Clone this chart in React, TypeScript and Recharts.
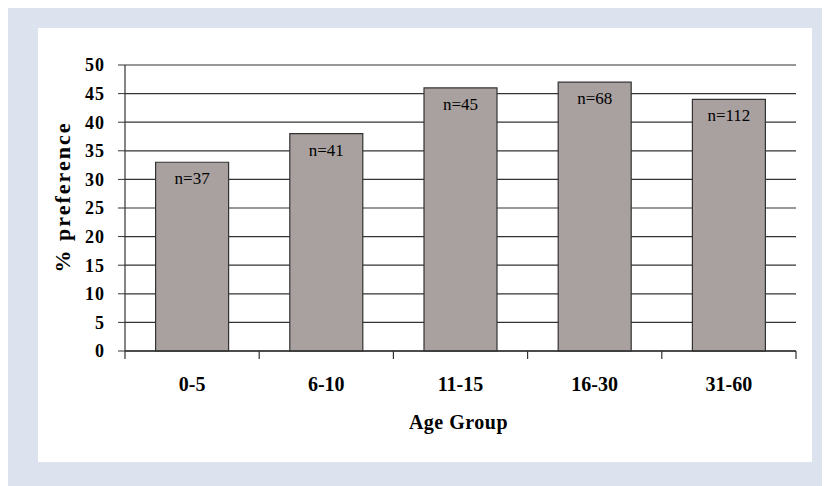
import React from 'react';
import { BarChart, Bar, XAxis, YAxis, CartesianGrid, LabelList, Label } from 'recharts';

const categories = ['0-5', '6-10', '11-15', '16-30', '31-60'];
const preference = [33, 38, 46, 47, 44];
const sampleLabels = ['n=37', 'n=41', 'n=45', 'n=68', 'n=112'];
const yTicks = [0, 5, 10, 15, 20, 25, 30, 35, 40, 45, 50];

const data = categories.map((c, i) => ({ group: c, value: preference[i], n: sampleLabels[i] }));

const FONT = "'Liberation Serif', 'Times New Roman', serif";
const LINE = '#333333';
const X_TICK_MARGIN = 26;
const BOUNDARY_TICK = 8;

const YTitle = (props: any) => {
  const vb = props.viewBox;
  const cx = vb.x + 24;
  const cy = vb.y + vb.height / 2 - 11;
  return (
    <text x={cx} y={cy} transform={`rotate(-90, ${cx}, ${cy})`} textAnchor="middle" dominantBaseline="central"
      fontFamily={FONT} fontWeight="bold" fontSize={22} letterSpacing={2} fill="#000">% preference</text>
  );
};

const XTitle = (props: any) => {
  const vb = props.viewBox;
  const cx = vb.x + vb.width / 2 - 2;
  const cy = vb.y + 78;
  return (
    <text x={cx} y={cy} textAnchor="middle" fontFamily={FONT} fontWeight="bold" fontSize={20} letterSpacing={0.5} fill="#000">Age Group</text>
  );
};

const BarLabel = (props: any) => {
  const { x, y, width, value } = props;
  return (
    <text x={Number(x) + Number(width) / 2} y={Number(y) + 22} textAnchor="middle"
      fontFamily={FONT} fontSize={17} fill="#000">{value}</text>
  );
};

const CatTick = (props: any) => {
  const { x, y, payload, index, visibleTicksCount, width } = props;
  const axisY = Number(y) - X_TICK_MARGIN;
  const band = Number(width) / Number(visibleTicksCount || 1);
  const left = Number(x) - band / 2;
  const right = Number(x) + band / 2;
  const isLast = index === visibleTicksCount - 1;
  return (
    <g>
      {isFinite(band) && (
        <line x1={left} x2={left} y1={axisY} y2={axisY + BOUNDARY_TICK} stroke={LINE} strokeWidth={1.2} />
      )}
      {isFinite(band) && isLast && (
        <line x1={right} x2={right} y1={axisY} y2={axisY + BOUNDARY_TICK} stroke={LINE} strokeWidth={1.2} />
      )}
      <text x={x} y={y} dy="0.71em" textAnchor="middle" fontFamily={FONT} fontWeight="bold" fontSize={20} fill="#000">
        {payload.value}
      </text>
    </g>
  );
};

export default function App() {
  return (
    <div style={{ width: 822, height: 478, background: '#dce2ee', position: 'relative' }}>
      <div style={{ position: 'absolute', left: 30, top: 20, width: 774, height: 434, background: '#ffffff' }}>
        <BarChart width={774} height={434} data={data} margin={{ top: 37, right: 16, bottom: 0, left: 0 }}
          barCategoryGap="22.8%">
          <CartesianGrid vertical={false} stroke={LINE} strokeWidth={1.2} />
          <XAxis dataKey="group" height={111} tickLine={false} tickSize={0} tickMargin={X_TICK_MARGIN}
            axisLine={{ stroke: LINE, strokeWidth: 1.5 }} interval={0}
            tick={<CatTick />}>
            <Label content={<XTitle />} />
          </XAxis>
          <YAxis domain={[0, 50]} ticks={yTicks} width={87} tickSize={7} tickMargin={13}
            axisLine={{ stroke: LINE, strokeWidth: 1.2 }} tickLine={{ stroke: LINE }}
            tick={{ fill: '#000', fontFamily: FONT, fontWeight: 'bold', fontSize: 18, letterSpacing: 1 }}
            interval={0}>
            <Label content={<YTitle />} />
          </YAxis>
          <YAxis yAxisId="r" orientation="right" domain={[0, 50]} width={0} tick={false} tickLine={false}
            axisLine={{ stroke: LINE, strokeWidth: 1.2 }} />
          <Bar dataKey="value" fill="#a9a19f" stroke={LINE} strokeWidth={1.2} isAnimationActive={false}>
            <LabelList dataKey="n" content={<BarLabel />} />
          </Bar>
        </BarChart>
      </div>
    </div>
  );
}
